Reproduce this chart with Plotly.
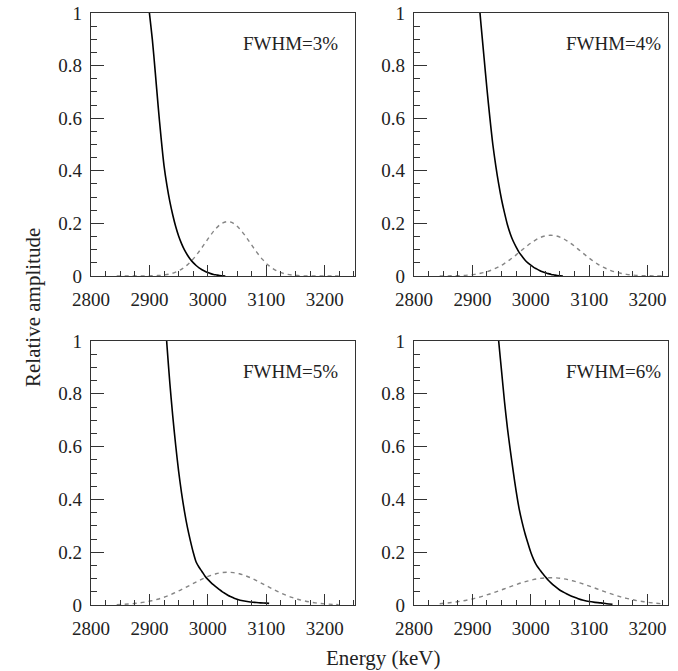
import plotly.graph_objects as go

# ---- data ----
panel_labels = ["FWHM=3%", "FWHM=4%", "FWHM=5%", "FWHM=6%"]

# solid curves (background tail), energy in keV vs relative amplitude
e_solid_3 = [2898, 2900, 2905, 2910, 2915, 2920, 2925, 2930, 2935, 2940, 2945, 2950, 2955, 2960, 2965,
             2970, 2975, 2980, 2985, 2990, 2995, 3000, 3005, 3010, 3015, 3020, 3025, 3030]
a_solid_3 = [1.05, 1.0, 0.90, 0.775, 0.645, 0.525, 0.42, 0.345, 0.283, 0.232, 0.188, 0.152, 0.123, 0.099, 0.080,
             0.064, 0.051, 0.040, 0.031, 0.024, 0.018, 0.013, 0.009, 0.006, 0.004, 0.002, 0.001, 0.0]

e_solid_4 = [2911, 2913, 2915, 2920, 2925, 2930, 2935, 2940, 2945, 2950, 2955, 2960, 2965, 2970, 2975,
             2980, 2985, 2990, 2995, 3000, 3005, 3010, 3015, 3020, 3025, 3030, 3035, 3040, 3045, 3050, 3055]
a_solid_4 = [1.05, 1.0, 0.95, 0.83, 0.71, 0.60, 0.50, 0.42, 0.35, 0.29, 0.24, 0.195, 0.16, 0.132, 0.11,
             0.09, 0.075, 0.061, 0.05, 0.041, 0.033, 0.027, 0.021, 0.016, 0.012, 0.009, 0.006, 0.004, 0.002, 0.001, 0.0]

e_solid_5 = [2928, 2930, 2935, 2940, 2945, 2950, 2955, 2960, 2965, 2970, 2975, 2980, 2985, 2990, 2995,
             3000, 3005, 3010, 3015, 3020, 3025, 3030, 3035, 3040, 3045, 3050, 3060, 3070, 3080, 3090, 3100, 3105]
a_solid_5 = [1.05, 0.985, 0.84, 0.715, 0.605, 0.507, 0.425, 0.355, 0.295, 0.245, 0.20, 0.163, 0.143, 0.127, 0.11,
             0.097, 0.086, 0.076, 0.067, 0.058, 0.05, 0.043, 0.036, 0.031, 0.026, 0.022, 0.016, 0.012, 0.010, 0.008, 0.007, 0.006]

e_solid_6 = [2944, 2945, 2950, 2955, 2960, 2965, 2970, 2975, 2980, 2985, 2990, 2995, 3000, 3005, 3010,
             3015, 3020, 3025, 3030, 3035, 3040, 3050, 3060, 3070, 3080, 3090, 3100, 3110, 3120, 3130, 3140]
a_solid_6 = [1.03, 1.0, 0.885, 0.77, 0.67, 0.585, 0.505, 0.43, 0.365, 0.315, 0.272, 0.235, 0.20, 0.172, 0.15,
             0.135, 0.12, 0.107, 0.094, 0.083, 0.073, 0.056, 0.044, 0.033, 0.025, 0.018, 0.013, 0.010, 0.008, 0.005, 0.003]

# dashed peaks (signal), shared energy grid
e_peak = [2844, 2854, 2864, 2874, 2884, 2894, 2904, 2914, 2924, 2934, 2944, 2954, 2964,
          2974, 2984, 2994, 3004, 3014, 3024, 3034, 3044, 3054, 3064, 3074, 3084, 3094,
          3104, 3114, 3124, 3134, 3144, 3154, 3164, 3174, 3184, 3194, 3204, 3214, 3224]
a_peak_3 = [0.0, 0.0, 0.0, 0.0001, 0.0002, 0.0003, 0.0007, 0.0017, 0.0036, 0.0073, 0.0138, 0.0244, 0.0403,
            0.0622, 0.0898, 0.121, 0.153, 0.181, 0.200, 0.207, 0.200, 0.181, 0.153, 0.121, 0.0898, 0.0622,
            0.0403, 0.0244, 0.0138, 0.0073, 0.0036, 0.0017, 0.0007, 0.0003, 0.0002, 0.0001, 0.0, 0.0, 0.0]
a_peak_4 = [0.0001, 0.0003, 0.0007, 0.0012, 0.0022, 0.0039, 0.0064, 0.0103, 0.0158, 0.0235, 0.0337, 0.0464, 0.0615,
            0.0786, 0.0968, 0.115, 0.131, 0.144, 0.152, 0.155, 0.152, 0.144, 0.131, 0.115, 0.0968, 0.0786,
            0.0615, 0.0464, 0.0337, 0.0235, 0.0158, 0.0103, 0.0064, 0.0039, 0.0022, 0.0012, 0.0007, 0.0003, 0.0001]
a_peak_5 = [0.0016, 0.0025, 0.0038, 0.0057, 0.0082, 0.0117, 0.0162, 0.0218, 0.0288, 0.0371, 0.0467, 0.0573, 0.0687,
            0.0803, 0.0917, 0.1023, 0.1113, 0.1182, 0.1225, 0.124, 0.1225, 0.1182, 0.1113, 0.1023, 0.0917, 0.0803,
            0.0687, 0.0573, 0.0467, 0.0371, 0.0288, 0.0218, 0.0162, 0.0117, 0.0082, 0.0057, 0.0038, 0.0025, 0.0016]
a_peak_6 = [0.0050, 0.0069, 0.0092, 0.0122, 0.0157, 0.0201, 0.0252, 0.0310, 0.0376, 0.0448, 0.0525, 0.0606, 0.0687,
            0.0766, 0.0840, 0.0905, 0.0960, 0.1001, 0.1026, 0.1035, 0.1026, 0.1001, 0.0960, 0.0905, 0.0840, 0.0766,
            0.0687, 0.0606, 0.0525, 0.0448, 0.0376, 0.0310, 0.0252, 0.0201, 0.0157, 0.0122, 0.0092, 0.0069, 0.0050]

x_ticks = [2800, 2900, 3000, 3100, 3200]
y_ticks = [0, 0.2, 0.4, 0.6, 0.8, 1]

solids = [(e_solid_3, a_solid_3), (e_solid_4, a_solid_4), (e_solid_5, a_solid_5), (e_solid_6, a_solid_6)]
peaks = [a_peak_3, a_peak_4, a_peak_5, a_peak_6]

# ---- layout geometry ----
W, H = 678, 671
px_x = [(91, 355), (414, 668), (91, 355), (414, 668)]
px_y = [(13, 276), (13, 276), (341, 605), (341, 605)]
x_ranges = [[2800, 3252], [2800, 3235], [2800, 3252], [2800, 3235]]

FONT = "Liberation Serif, Times New Roman, serif"
fig = go.Figure()
layout = dict(
    width=W, height=H,
    margin=dict(l=0, r=0, t=0, b=0),
    paper_bgcolor="white", plot_bgcolor="white",
    showlegend=False,
    font=dict(family=FONT, size=19, color="#222"),
    annotations=[],
)

for i in range(4):
    n = "" if i == 0 else str(i + 1)
    xa, ya = "x" + n, "y" + n
    fig.add_trace(go.Scatter(x=e_peak, y=peaks[i], mode="lines", xaxis=xa, yaxis=ya,
                             line=dict(color="#858585", width=1.4, dash="4px,4px", shape="spline")))
    fig.add_trace(go.Scatter(x=solids[i][0], y=solids[i][1], mode="lines", xaxis=xa, yaxis=ya,
                             line=dict(color="black", width=1.6, shape="spline", smoothing=0.8)))
    x0, x1 = px_x[i]
    y0, y1 = px_y[i]
    common = dict(showline=True, linecolor="#333", linewidth=1.3, mirror=True, automargin=False,
                  showgrid=False, zeroline=False, ticks="inside", tickcolor="#333",
                  tickwidth=1.2, tickfont=dict(family=FONT, size=19, color="#222"))
    layout["xaxis" + n] = dict(
        domain=[x0 / W, x1 / W], range=x_ranges[i], anchor=ya,
        tickvals=x_ticks, ticklen=11, ticklabelstandoff=6,
        minor=dict(ticks="inside", dtick=25, tick0=2800, ticklen=5, tickcolor="#333", tickwidth=1.2, showgrid=False),
        **common)
    layout["yaxis" + n] = dict(
        domain=[1 - y1 / H, 1 - y0 / H], range=[0, 1], anchor=xa,
        tickvals=y_ticks, ticklen=13, ticklabelstandoff=4,
        minor=dict(ticks="inside", dtick=0.05, tick0=0, ticklen=6, tickcolor="#333", tickwidth=1.2, showgrid=False),
        **common)
    layout["annotations"].append(dict(
        text=panel_labels[i], x=3141, y=0.885, xref=xa, yref=ya, showarrow=False,
        xanchor="center", yanchor="middle", font=dict(family=FONT, size=19, color="#222")))

layout["annotations"].append(dict(
    text="Relative amplitude", x=33 / W, y=1 - 308 / H, xref="paper", yref="paper",
    showarrow=False, textangle=-90, xanchor="center", yanchor="middle",
    font=dict(family=FONT, size=21, color="#222")))
layout["annotations"].append(dict(
    text="Energy (keV)", x=383 / W, y=1 - 658 / H, xref="paper", yref="paper",
    showarrow=False, xanchor="center", yanchor="middle",
    font=dict(family=FONT, size=21, color="#222")))

fig.update_layout(**layout)
fig.write_html("out.html")
